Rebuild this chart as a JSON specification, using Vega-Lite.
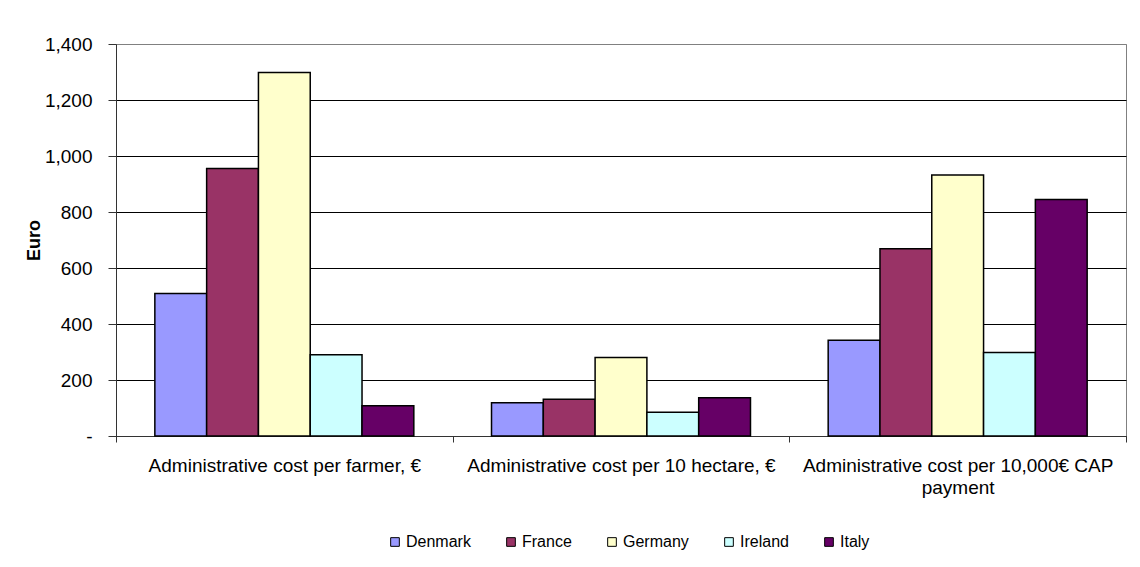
{
  "$schema": "https://vega.github.io/schema/vega-lite/v6.json",
  "autosize": {"type": "none"},
  "padding": {"left": 116, "top": 44, "right": 14, "bottom": 131},
  "width": 1010,
  "height": 392,
  "background": "white",
  "config": {
    "font": "Liberation Sans",
    "view": {"stroke": "#808080", "strokeWidth": 1}
  },
  "data": {
    "values": [
      {"metric": "Administrative cost per farmer, €", "country": "Denmark", "euro": 509},
      {"metric": "Administrative cost per farmer, €", "country": "France", "euro": 955},
      {"metric": "Administrative cost per farmer, €", "country": "Germany", "euro": 1298},
      {"metric": "Administrative cost per farmer, €", "country": "Ireland", "euro": 290},
      {"metric": "Administrative cost per farmer, €", "country": "Italy", "euro": 108},
      {"metric": "Administrative cost per 10 hectare, €", "country": "Denmark", "euro": 119},
      {"metric": "Administrative cost per 10 hectare, €", "country": "France", "euro": 131},
      {"metric": "Administrative cost per 10 hectare, €", "country": "Germany", "euro": 280},
      {"metric": "Administrative cost per 10 hectare, €", "country": "Ireland", "euro": 85},
      {"metric": "Administrative cost per 10 hectare, €", "country": "Italy", "euro": 137},
      {"metric": "Administrative cost per 10,000€ CAP payment", "country": "Denmark", "euro": 342},
      {"metric": "Administrative cost per 10,000€ CAP payment", "country": "France", "euro": 669},
      {"metric": "Administrative cost per 10,000€ CAP payment", "country": "Germany", "euro": 932},
      {"metric": "Administrative cost per 10,000€ CAP payment", "country": "Ireland", "euro": 298},
      {"metric": "Administrative cost per 10,000€ CAP payment", "country": "Italy", "euro": 845}
    ]
  },
  "mark": {"type": "bar", "stroke": "black", "strokeWidth": 1.5, "opacity": 1},
  "encoding": {
    "x": {
      "field": "metric",
      "type": "nominal",
      "sort": null,
      "scale": {"paddingInner": 0, "paddingOuter": 0},
      "axis": {
        "title": null,
        "labelAngle": 0,
        "labelFontSize": 19,
        "labelColor": "black",
        "labelLimit": 500,
        "labelPadding": 14,
        "labelBaseline": "top",
        "labelLineHeight": 22,
        "labelExpr": "datum.label == 'Administrative cost per 10,000€ CAP payment' ? ['Administrative cost per 10,000€ CAP', 'payment'] : datum.label",
        "tickBand": "extent",
        "tickSize": 6,
        "tickColor": "#333",
        "domainColor": "#333",
        "grid": false
      }
    },
    "xOffset": {
      "field": "country",
      "type": "nominal",
      "sort": ["Denmark", "France", "Germany", "Ireland", "Italy"],
      "scale": {"paddingInner": 0, "paddingOuter": 0.75}
    },
    "y": {
      "field": "euro",
      "type": "quantitative",
      "scale": {"domain": [0, 1400], "nice": false},
      "axis": {
        "title": "Euro",
        "titleFontSize": 18,
        "titleFontWeight": "bold",
        "titleColor": "black",
        "titleX": -82,
        "titleY": 196,
        "titleAngle": -90,
        "titleAlign": "center",
        "titleBaseline": "middle",
        "values": [0, 200, 400, 600, 800, 1000, 1200, 1400],
        "labelExpr": "datum.value == 0 ? '-' : format(datum.value, ',')",
        "labelFontSize": 19,
        "labelColor": "black",
        "labelPadding": 16,
        "tickSize": 8,
        "tickColor": "#333",
        "domainColor": "#333",
        "grid": true,
        "gridColor": {"condition": {"test": "datum.value == 1400", "value": "#808080"}, "value": "#000"},
        "gridOpacity": 1
      }
    },
    "color": {
      "field": "country",
      "type": "nominal",
      "sort": ["Denmark", "France", "Germany", "Ireland", "Italy"],
      "scale": {
        "domain": ["Denmark", "France", "Germany", "Ireland", "Italy"],
        "range": ["#9999FF", "#993366", "#FFFFCC", "#CCFFFF", "#660066"]
      },
      "legend": {
        "title": null,
        "orient": "none",
        "direction": "horizontal",
        "legendX": 271,
        "legendY": 490,
        "padding": 0,
        "symbolType": "square",
        "symbolSize": 75,
        "symbolStrokeColor": "black",
        "symbolStrokeWidth": 1,
        "symbolOpacity": 1,
        "labelFontSize": 16,
        "labelColor": "black",
        "labelOffset": 3,
        "columnPadding": 32
      }
    }
  }
}
